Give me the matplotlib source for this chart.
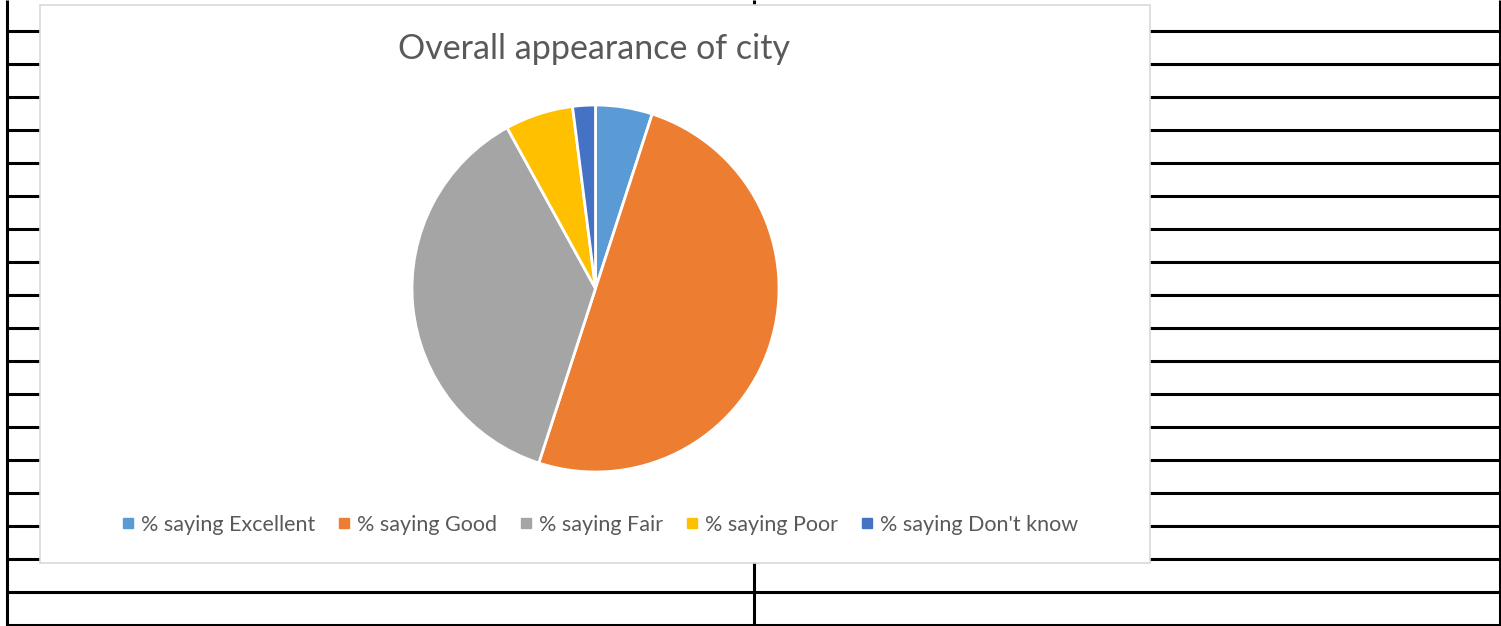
import matplotlib.pyplot as plt
from matplotlib.patches import Rectangle
from matplotlib.lines import Line2D

# Survey shares (percent)
categories = ['% saying Excellent', '% saying Good', '% saying Fair',
              '% saying Poor', "% saying Don't know"]
shares = [5, 50, 37, 6, 2]
colors = ['#5B9BD5', '#ED7D31', '#A5A5A5', '#FFC000', '#4472C4']

title = 'Overall appearance of city'

W, H = 1501, 626
fig = plt.figure(figsize=(W / 100, H / 100), dpi=100)

# Spreadsheet grid behind the chart, in pixel coordinates
bg = fig.add_axes([0, 0, 1, 1])
bg.set_xlim(0, W)
bg.set_ylim(H, 0)
bg.axis('off')
row_lines = [31 + 33 * i for i in range(19)]
for y in row_lines:
    bg.plot([7, 1500], [y, y], color='black', lw=2.2, solid_capstyle='butt')
for x in [7, 754, 1500]:
    bg.plot([x, x], [0, 626], color='black', lw=2.2, solid_capstyle='butt')

# Chart area
bg.add_patch(Rectangle((40, 5), 1110, 558, facecolor='white',
                       edgecolor='#d9d9d9', lw=1.2, zorder=5))
bg.text(594, 49, title, ha='center', va='center', fontsize=24.5,
        color='#595959', family='Lato', zorder=6)

# Pie
cx, cy, r = 595.5, 288.5, 183.5
pie_ax = fig.add_axes([(cx - r) / W, 1 - (cy + r) / H, 2 * r / W, 2 * r / H])
pie_ax.pie(shares, colors=colors, startangle=90, counterclock=False,
           radius=1, wedgeprops=dict(edgecolor='white', linewidth=2))
pie_ax.set_xlim(-1, 1)
pie_ax.set_ylim(-1, 1)
pie_ax.set_aspect('equal')
pie_ax.axis('off')

# Legend
handles = [Line2D([], [], marker='s', ls='', color=c, markersize=6.5)
           for c in colors]
leg = fig.legend(handles, categories, loc='center', ncol=5,
                 bbox_to_anchor=(600 / W, 1 - 525 / H), frameon=False,
                 prop={'family': 'Lato', 'size': 15.5}, labelcolor='#595959',
                 handlelength=0.6, handletextpad=0.3, columnspacing=1.05)
leg.set_zorder(10)

fig.savefig('out.png', dpi=100)
